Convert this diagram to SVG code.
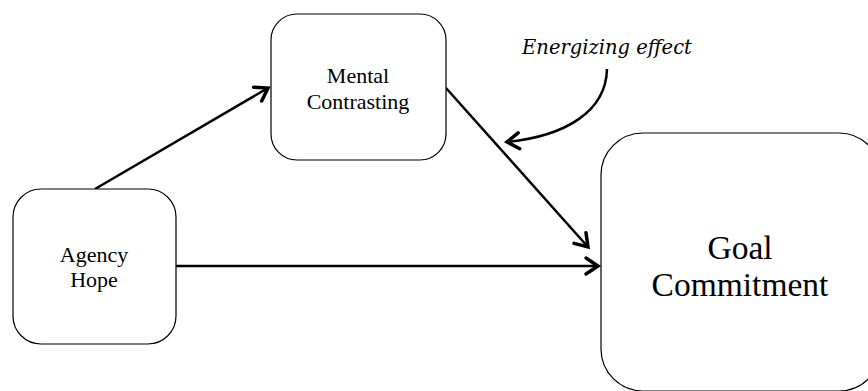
<svg xmlns="http://www.w3.org/2000/svg" width="868" height="391" viewBox="0 0 868 391">
<style>
.box{fill:#fff;stroke:#000;stroke-width:1.2}
.lbl{font-family:"Liberation Serif","DejaVu Serif",serif;fill:#000;text-anchor:middle}
.ital{font-family:"DejaVu Serif","Liberation Serif",serif;font-style:italic;fill:#000;text-anchor:middle}
.ln{fill:none;stroke:#000;stroke-width:2.5}
</style>
<defs>
<marker id="ah" markerUnits="userSpaceOnUse" markerWidth="24" markerHeight="24" viewBox="-14 -12 18 24" refX="0" refY="0" orient="auto">
<path d="M-12,-8 L0,0 L-12,8" fill="none" stroke="#000" stroke-width="3.5" stroke-linejoin="miter" stroke-linecap="round"/>
</marker>
</defs>
<g id="connectors">
<path class="ln" d="M95,189 L268,88" marker-end="url(#ah)"/>
<path class="ln" d="M446,88 L588,247" marker-end="url(#ah)"/>
<path class="ln" d="M176,266 L598,266" marker-end="url(#ah)"/>
<path class="ln" d="M607,69 C606,112 565,136 507,142" marker-end="url(#ah)"/>
</g>
<g id="mental-contrasting">
<rect class="box" x="271" y="14" width="175" height="146" rx="26"/>
<text class="lbl" x="358" y="83" font-size="22">Mental</text>
<text class="lbl" x="358" y="109" font-size="22">Contrasting</text>
</g>
<g id="agency-hope">
<rect class="box" x="13" y="189" width="163" height="155" rx="28"/>
<text class="lbl" x="94" y="262" font-size="22">Agency</text>
<text class="lbl" x="94" y="287" font-size="22">Hope</text>
</g>
<g id="goal-commitment">
<rect class="box" x="601" y="133" width="280" height="258" rx="42"/>
<text class="lbl" x="740" y="259" font-size="33.5">Goal</text>
<text class="lbl" x="740" y="296" font-size="33.5">Commitment</text>
</g>
<g id="energizing-effect">
<text class="ital" x="607" y="54" font-size="19.5">Energizing effect</text>
</g>
</svg>
